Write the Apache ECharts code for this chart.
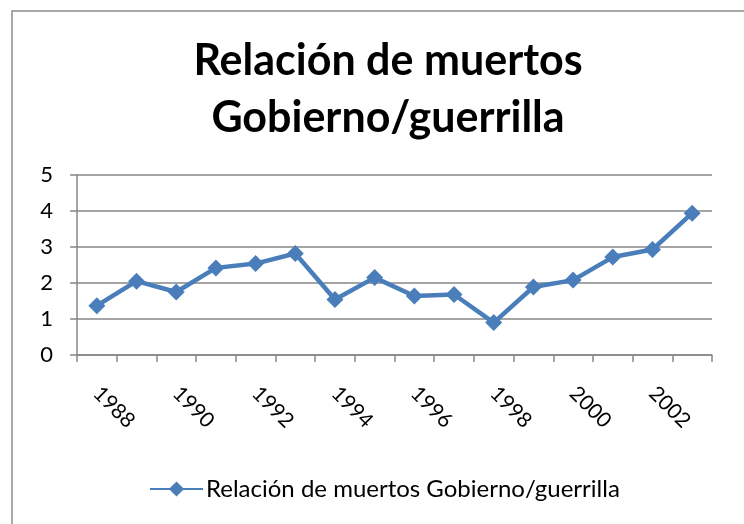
<!DOCTYPE html>
<html>
<head>
<meta charset="utf-8">
<script src="https://cdn.jsdelivr.net/npm/echarts@6/dist/echarts.min.js"></script>
<style>
  html, body { margin: 0; padding: 0; background: #fff; }
  #chart { width: 744px; height: 524px; }
</style>
</head>
<body>
<div id="chart"></div>
<script>
// Ratio of government deaths to guerrilla deaths, by year
const years = ['1988','1989','1990','1991','1992','1993','1994','1995','1996','1997','1998','1999','2000','2001','2002','2003'];
const ratio = [1.37, 2.05, 1.75, 2.42, 2.54, 2.82, 1.54, 2.15, 1.64, 1.68, 0.9, 1.89, 2.08, 2.72, 2.93, 3.94];
const yTicks = [0, 1, 2, 3, 4, 5];

const seriesName = 'Relación de muertos Gobierno/guerrilla';
const font = 'Lato, "Open Sans", sans-serif';
const blue = '#4A7EBB';
const gray = '#878787';

const chart = echarts.init(document.getElementById('chart'), null, { renderer: 'canvas' });
chart.setOption({
  animation: false,
  backgroundColor: '#fff',
  graphic: [{
    type: 'rect',
    shape: { x: 12, y: 11, width: 760, height: 540 },
    style: { fill: 'none', stroke: '#8c8c8c', lineWidth: 1.5 },
    silent: true
  }],
  title: {
    text: 'Relación de muertos\nGobierno/guerrilla',
    left: 383,
    textAlign: 'center',
    top: 28,
    textStyle: {
      fontFamily: font,
      fontWeight: 'bold',
      fontSize: 43,
      lineHeight: 57,
      color: '#000'
    }
  },
  legend: {
    data: [seriesName],
    left: 149,
    top: 477,
    padding: 0,
    itemWidth: 53,
    itemHeight: 19,
    itemGap: 0,
    textStyle: { fontFamily: font, fontSize: 24, color: '#000', padding: [0, 0, 0, -2] }
  },
  grid: { left: 77, right: 32, top: 175, bottom: 169, containLabel: false },
  xAxis: {
    type: 'category',
    data: years,
    boundaryGap: true,
    axisLine: { show: true, lineStyle: { color: gray, width: 1.5 } },
    axisTick: { show: true, alignWithLabel: false, interval: 0, length: 7, lineStyle: { color: gray, width: 1.5 } },
    axisLabel: {
      interval: 1,
      rotate: -45,
      margin: 35,
      fontFamily: font,
      fontSize: 21,
      color: '#000'
    },
    splitLine: { show: false }
  },
  yAxis: {
    type: 'value',
    min: yTicks[0],
    max: yTicks[yTicks.length - 1],
    interval: 1,
    axisLine: { show: true, lineStyle: { color: gray, width: 1.5 } },
    axisTick: { show: true, length: 7, lineStyle: { color: gray, width: 1.5 } },
    axisLabel: { margin: 24, fontFamily: font, fontSize: 22, color: '#000' },
    splitLine: { show: true, lineStyle: { color: gray, width: 1.5 } }
  },
  series: [{
    name: seriesName,
    type: 'line',
    data: ratio,
    symbol: 'diamond',
    symbolSize: 17,
    lineStyle: { color: blue, width: 4.5 },
    itemStyle: { color: blue },
    z: 3
  }]
});
</script>
</body>
</html>
